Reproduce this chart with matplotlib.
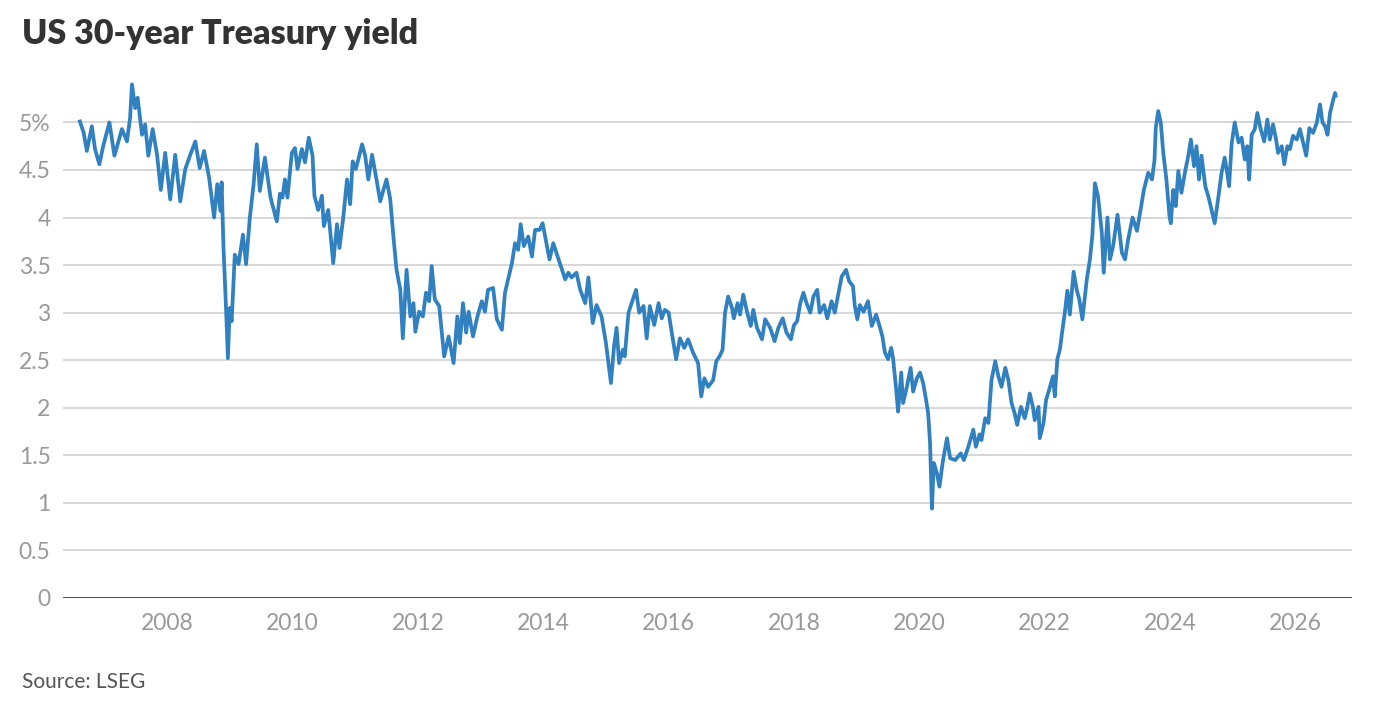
import matplotlib.pyplot as plt
from matplotlib.ticker import FixedLocator, FuncFormatter

# Yield readings (decimal year, percent)
years = [
    2006.61, 2006.67, 2006.72, 2006.80, 2006.85, 2006.92, 2006.98, 2007.08, 2007.16, 2007.28,
    2007.36, 2007.41, 2007.44, 2007.49, 2007.53, 2007.60, 2007.65, 2007.70, 2007.77, 2007.84,
    2007.90, 2007.97, 2008.05, 2008.13, 2008.21, 2008.29, 2008.37, 2008.45, 2008.52, 2008.59,
    2008.67, 2008.75, 2008.80, 2008.85, 2008.87, 2008.90, 2008.94, 2008.97, 2009.00, 2009.03,
    2009.08, 2009.14, 2009.21, 2009.26, 2009.32, 2009.38, 2009.43, 2009.48, 2009.56, 2009.65,
    2009.75, 2009.80, 2009.84, 2009.88, 2009.92, 2009.99, 2010.04, 2010.08, 2010.15, 2010.20,
    2010.26, 2010.32, 2010.35, 2010.41, 2010.47, 2010.50, 2010.57, 2010.65, 2010.71, 2010.75,
    2010.81, 2010.87, 2010.92, 2010.96, 2011.01, 2011.05, 2011.11, 2011.16, 2011.21, 2011.27,
    2011.34, 2011.40, 2011.45, 2011.50, 2011.56, 2011.61, 2011.66, 2011.72, 2011.76, 2011.82,
    2011.88, 2011.93, 2011.96, 2012.02, 2012.08, 2012.13, 2012.18, 2012.22, 2012.27, 2012.34,
    2012.42, 2012.49, 2012.57, 2012.63, 2012.67, 2012.72, 2012.77, 2012.81, 2012.88, 2012.95,
    2013.02, 2013.07, 2013.12, 2013.20, 2013.26, 2013.34, 2013.39, 2013.44, 2013.50, 2013.55,
    2013.60, 2013.64, 2013.69, 2013.76, 2013.82, 2013.87, 2013.94, 2013.99, 2014.04, 2014.10,
    2014.16, 2014.22, 2014.30, 2014.35, 2014.40, 2014.45, 2014.53, 2014.59, 2014.67, 2014.72,
    2014.79, 2014.85, 2014.93, 2015.00, 2015.08, 2015.13, 2015.17, 2015.21, 2015.27, 2015.30,
    2015.36, 2015.43, 2015.48, 2015.53, 2015.60, 2015.65, 2015.70, 2015.77, 2015.84, 2015.89,
    2015.94, 2016.00, 2016.05, 2016.12, 2016.18, 2016.25, 2016.31, 2016.39, 2016.47, 2016.52,
    2016.57, 2016.63, 2016.71, 2016.76, 2016.82, 2016.86, 2016.90, 2016.95, 2017.01, 2017.04,
    2017.10, 2017.14, 2017.19, 2017.25, 2017.31, 2017.35, 2017.41, 2017.49, 2017.54, 2017.62,
    2017.69, 2017.75, 2017.82, 2017.88, 2017.95, 2018.00, 2018.05, 2018.10, 2018.15, 2018.20,
    2018.26, 2018.31, 2018.37, 2018.41, 2018.48, 2018.53, 2018.60, 2018.65, 2018.71, 2018.76,
    2018.83, 2018.88, 2018.94, 2018.97, 2019.01, 2019.05, 2019.11, 2019.18, 2019.24, 2019.31,
    2019.36, 2019.41, 2019.45, 2019.50, 2019.55, 2019.58, 2019.63, 2019.66, 2019.71, 2019.74,
    2019.80, 2019.86, 2019.90, 2019.96, 2020.01, 2020.06, 2020.11, 2020.14, 2020.17, 2020.20,
    2020.23, 2020.28, 2020.32, 2020.37, 2020.44, 2020.49, 2020.57, 2020.66, 2020.71, 2020.78,
    2020.86, 2020.90, 2020.96, 2020.99, 2021.05, 2021.10, 2021.15, 2021.21, 2021.26, 2021.31,
    2021.37, 2021.42, 2021.47, 2021.52, 2021.56, 2021.62, 2021.68, 2021.72, 2021.76, 2021.81,
    2021.84, 2021.90, 2021.92, 2021.98, 2022.02, 2022.07, 2022.13, 2022.16, 2022.20, 2022.24,
    2022.29, 2022.32, 2022.36, 2022.40, 2022.46, 2022.51, 2022.55, 2022.60, 2022.67, 2022.72,
    2022.76, 2022.80, 2022.85, 2022.91, 2022.94, 2023.00, 2023.04, 2023.09, 2023.16, 2023.23,
    2023.28, 2023.33, 2023.40, 2023.47, 2023.52, 2023.58, 2023.65, 2023.71, 2023.75, 2023.77,
    2023.81, 2023.85, 2023.89, 2023.94, 2023.99, 2024.01, 2024.05, 2024.09, 2024.13, 2024.18,
    2024.24, 2024.29, 2024.33, 2024.38, 2024.42, 2024.46, 2024.50, 2024.56, 2024.61, 2024.66,
    2024.71, 2024.77, 2024.82, 2024.87, 2024.91, 2024.94, 2024.98, 2025.03, 2025.09, 2025.14,
    2025.19, 2025.23, 2025.26, 2025.30, 2025.35, 2025.39, 2025.44, 2025.50, 2025.55, 2025.59,
    2025.64, 2025.69, 2025.72, 2025.78, 2025.82, 2025.87, 2025.91, 2025.96, 2026.02, 2026.07,
    2026.12, 2026.17, 2026.22, 2026.28, 2026.34, 2026.39, 2026.43, 2026.47, 2026.51, 2026.55,
    2026.59, 2026.63, 2026.64,
]
yields = [
    5.01, 4.89, 4.70, 4.96, 4.72, 4.56, 4.75, 5.00, 4.65, 4.93,
    4.80, 5.05, 5.40, 5.15, 5.26, 4.87, 4.98, 4.65, 4.93, 4.66,
    4.29, 4.68, 4.19, 4.66, 4.17, 4.51, 4.66, 4.80, 4.52, 4.70,
    4.42, 4.00, 4.35, 4.07, 4.37, 3.68, 3.05, 2.52, 3.05, 2.91,
    3.61, 3.51, 3.82, 3.51, 4.00, 4.35, 4.77, 4.28, 4.63, 4.21,
    3.96, 4.25, 4.21, 4.40, 4.21, 4.68, 4.73, 4.51, 4.72, 4.58,
    4.84, 4.65, 4.23, 4.08, 4.23, 3.91, 4.08, 3.52, 3.93, 3.68,
    4.00, 4.40, 4.14, 4.59, 4.51, 4.61, 4.77, 4.65, 4.40, 4.66,
    4.40, 4.17, 4.29, 4.40, 4.19, 3.80, 3.45, 3.24, 2.73, 3.45,
    2.96, 3.10, 2.80, 3.01, 2.96, 3.21, 3.12, 3.49, 3.14, 3.07,
    2.54, 2.75, 2.47, 2.96, 2.68, 3.10, 2.79, 3.01, 2.75, 2.96,
    3.12, 3.01, 3.24, 3.26, 2.93, 2.82, 3.21, 3.35, 3.52, 3.73,
    3.66, 3.93, 3.70, 3.80, 3.59, 3.87, 3.87, 3.94, 3.77, 3.56,
    3.73, 3.61, 3.45, 3.35, 3.42, 3.37, 3.42, 3.24, 3.10, 3.37,
    2.89, 3.08, 2.96, 2.68, 2.26, 2.65, 2.84, 2.47, 2.61, 2.54,
    3.00, 3.14, 3.24, 3.00, 3.07, 2.73, 3.07, 2.87, 3.10, 2.94,
    3.03, 3.00, 2.79, 2.51, 2.73, 2.63, 2.72, 2.58, 2.47, 2.12,
    2.31, 2.22, 2.29, 2.49, 2.55, 2.61, 3.00, 3.17, 3.05, 2.94,
    3.10, 2.98, 3.19, 3.01, 2.86, 3.03, 2.84, 2.72, 2.93, 2.84,
    2.70, 2.84, 2.94, 2.79, 2.72, 2.87, 2.91, 3.10, 3.21, 3.10,
    3.00, 3.17, 3.24, 3.00, 3.08, 2.94, 3.12, 3.00, 3.21, 3.38,
    3.45, 3.33, 3.28, 3.07, 2.93, 3.08, 3.01, 3.12, 2.86, 2.98,
    2.87, 2.75, 2.58, 2.51, 2.63, 2.52, 2.19, 1.96, 2.37, 2.05,
    2.22, 2.42, 2.17, 2.31, 2.37, 2.26, 2.07, 1.94, 1.63, 0.94,
    1.42, 1.31, 1.17, 1.42, 1.68, 1.47, 1.45, 1.52, 1.45, 1.59,
    1.77, 1.59, 1.72, 1.66, 1.89, 1.84, 2.29, 2.49, 2.33, 2.22,
    2.42, 2.29, 2.05, 1.94, 1.82, 2.01, 1.89, 2.00, 2.15, 2.01,
    1.87, 2.01, 1.68, 1.84, 2.08, 2.19, 2.33, 2.12, 2.51, 2.61,
    2.86, 3.00, 3.23, 2.98, 3.43, 3.24, 3.14, 2.93, 3.35, 3.56,
    3.82, 4.36, 4.22, 3.84, 3.42, 4.00, 3.56, 3.70, 4.03, 3.63,
    3.56, 3.77, 4.00, 3.86, 4.05, 4.29, 4.47, 4.40, 4.60, 4.94,
    5.12, 5.00, 4.68, 4.40, 4.01, 3.94, 4.29, 4.12, 4.49, 4.26,
    4.49, 4.65, 4.82, 4.54, 4.75, 4.40, 4.65, 4.33, 4.22, 4.08,
    3.94, 4.22, 4.47, 4.63, 4.47, 4.33, 4.77, 5.00, 4.79, 4.84,
    4.61, 4.75, 4.40, 4.87, 4.93, 5.10, 4.94, 4.80, 5.03, 4.82,
    4.98, 4.82, 4.68, 4.75, 4.56, 4.75, 4.72, 4.86, 4.82, 4.93,
    4.79, 4.65, 4.94, 4.89, 5.00, 5.19, 5.00, 4.96, 4.87, 5.10,
    5.21, 5.31, 5.28,
]

year_ticks = [2008, 2010, 2012, 2014, 2016, 2018, 2020, 2022, 2024, 2026]
yield_ticks = [0, 0.5, 1, 1.5, 2, 2.5, 3, 3.5, 4, 4.5, 5]


def fmt_yield(v, pos):
    s = f"{v:g}"
    return s + "%" if v == 5 else s


def main():
    plt.rcParams['font.family'] = ['Lato', 'DejaVu Sans']

    fig = plt.figure(figsize=(13.79, 7.13), dpi=100)
    ax = fig.add_axes([0.0457, 0.1613, 0.9347, 0.7337])

    ax.plot(years, yields, color='#3181c0', linewidth=2.7, solid_joinstyle='round', zorder=3)

    ax.set_xlim(2006.34, 2026.90)
    ax.set_ylim(0, 5.5)
    ax.xaxis.set_major_locator(FixedLocator(year_ticks))
    ax.yaxis.set_major_locator(FixedLocator(yield_ticks))
    ax.yaxis.set_major_formatter(FuncFormatter(fmt_yield))

    ax.grid(axis='y', color='#d4d4d4', linewidth=1.3, zorder=1)
    ax.axhline(0, color='#4a4a4a', linewidth=1.4, zorder=2)
    for side in ['top', 'right', 'left', 'bottom']:
        ax.spines[side].set_visible(False)

    ax.tick_params(axis='both', length=0, labelsize=16.5, labelcolor='#999999')
    ax.tick_params(axis='y', pad=9)
    ax.tick_params(axis='x', pad=11)

    fig.text(0.016, 0.952, 'US 30-year Treasury yield', fontsize=24.5, fontweight='heavy',
             color='#333333', ha='left', va='center')
    fig.text(0.016, 0.043, 'Source: LSEG', fontsize=15, color='#555555',
             ha='left', va='center')

    plt.savefig('out.png', dpi=100)


if __name__ == "__main__":
    main()
